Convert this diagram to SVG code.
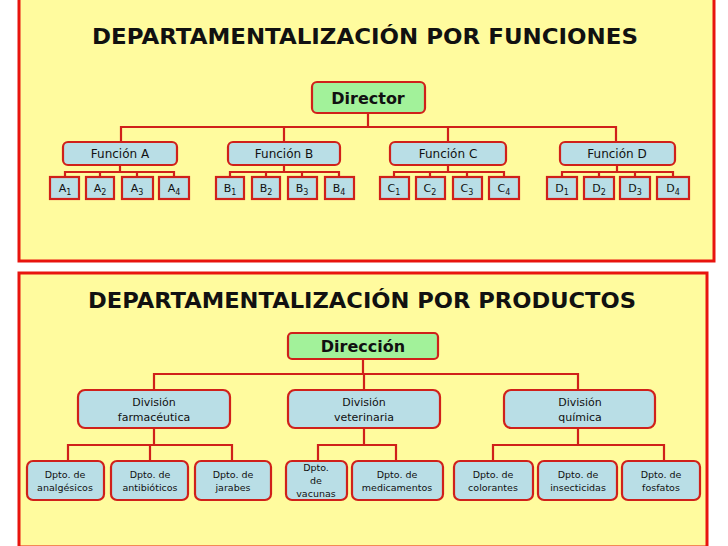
<svg xmlns="http://www.w3.org/2000/svg" width="728" height="546" viewBox="0 0 728 546">
<style>
.panel{fill:#FFFB9E;stroke:#E8140E;stroke-width:3}
.b{fill:#B9DEE6;stroke:#D0201A;stroke-width:2.2}
.g{fill:#A2F29A;stroke:#D0201A;stroke-width:2.2}
.c{fill:none;stroke:#D0201A;stroke-width:2.2}
text{font-family:"DejaVu Sans",sans-serif;fill:#111;text-anchor:middle}
.t{font-size:21px;font-weight:bold}
.h{font-size:16px;font-weight:bold}
.f{font-size:12px}
.s{font-size:11px}
.d{font-size:9.5px}
.u{font-size:8px;baseline-shift:-3px}
</style>
<rect width="728" height="546" fill="#fff"/>
<rect class="panel" x="19" y="-2" width="695" height="263"/>
<rect class="panel" x="19" y="273" width="688" height="274"/>
<text class="t" x="365" y="44" textLength="546" lengthAdjust="spacingAndGlyphs">DEPARTAMENTALIZACIÓN POR FUNCIONES</text>
<text class="t" x="362" y="308" textLength="548" lengthAdjust="spacingAndGlyphs">DEPARTAMENTALIZACIÓN POR PRODUCTOS</text>
<g id="connectors">
<path class="c" d="M368 113V127M121 142V127H616V142M284 127V142M448 127V142"/>
<path class="c" d="M120 165V172M65 177V172H174V177M100 172V177M137 172V177"/>
<path class="c" d="M284 165V172M230 177V172H339V177M266 172V177M302 172V177"/>
<path class="c" d="M448 165V172M394 177V172H504V177M430 172V177M467 172V177"/>
<path class="c" d="M617 165V172M562 177V172H673V177M599 172V177M635 172V177"/>
<path class="c" d="M363 359V374M154 390V374H578V390M364 374V390"/>
<path class="c" d="M154 428V445M68 461V445H232V461M150 445V461"/>
<path class="c" d="M364 428V445M318 461V445H396V461"/>
<path class="c" d="M578 428V445M493 461V445H664V461"/>
</g>
<g id="director"><rect class="g" x="312" y="82" width="113" height="31" rx="5"/><text class="h" x="368" y="104">Director</text></g>
<g id="fA"><rect class="b" x="63" y="142" width="114" height="23" rx="5"/><text class="f" x="120" y="158">Función A</text></g>
<g id="fB"><rect class="b" x="228" y="142" width="112" height="23" rx="5"/><text class="f" x="284" y="158">Función B</text></g>
<g id="fC"><rect class="b" x="390" y="142" width="116" height="23" rx="5"/><text class="f" x="448" y="158">Función C</text></g>
<g id="fD"><rect class="b" x="560" y="142" width="115" height="23" rx="5"/><text class="f" x="617" y="158">Función D</text></g>
<g id="A1"><rect class="b" x="50" y="177" width="29" height="22"/><text class="s" x="65" y="192">A<tspan class="u">1</tspan></text></g>
<g id="A2"><rect class="b" x="86" y="177" width="28" height="22"/><text class="s" x="100" y="192">A<tspan class="u">2</tspan></text></g>
<g id="A3"><rect class="b" x="122" y="177" width="31" height="22"/><text class="s" x="137" y="192">A<tspan class="u">3</tspan></text></g>
<g id="A4"><rect class="b" x="159" y="177" width="30" height="22"/><text class="s" x="174" y="192">A<tspan class="u">4</tspan></text></g>
<g id="B1"><rect class="b" x="216" y="177" width="28" height="22"/><text class="s" x="230" y="192">B<tspan class="u">1</tspan></text></g>
<g id="B2"><rect class="b" x="252" y="177" width="28" height="22"/><text class="s" x="266" y="192">B<tspan class="u">2</tspan></text></g>
<g id="B3"><rect class="b" x="288" y="177" width="29" height="22"/><text class="s" x="302" y="192">B<tspan class="u">3</tspan></text></g>
<g id="B4"><rect class="b" x="325" y="177" width="29" height="22"/><text class="s" x="339" y="192">B<tspan class="u">4</tspan></text></g>
<g id="C1"><rect class="b" x="380" y="177" width="29" height="22"/><text class="s" x="394" y="192">C<tspan class="u">1</tspan></text></g>
<g id="C2"><rect class="b" x="416" y="177" width="29" height="22"/><text class="s" x="430" y="192">C<tspan class="u">2</tspan></text></g>
<g id="C3"><rect class="b" x="453" y="177" width="29" height="22"/><text class="s" x="467" y="192">C<tspan class="u">3</tspan></text></g>
<g id="C4"><rect class="b" x="489" y="177" width="30" height="22"/><text class="s" x="504" y="192">C<tspan class="u">4</tspan></text></g>
<g id="D1"><rect class="b" x="547" y="177" width="30" height="22"/><text class="s" x="562" y="192">D<tspan class="u">1</tspan></text></g>
<g id="D2"><rect class="b" x="584" y="177" width="30" height="22"/><text class="s" x="599" y="192">D<tspan class="u">2</tspan></text></g>
<g id="D3"><rect class="b" x="620" y="177" width="30" height="22"/><text class="s" x="635" y="192">D<tspan class="u">3</tspan></text></g>
<g id="D4"><rect class="b" x="657" y="177" width="32" height="22"/><text class="s" x="673" y="192">D<tspan class="u">4</tspan></text></g>
<g id="direccion"><rect class="g" x="288" y="333" width="150" height="26" rx="4"/><text class="h" x="363" y="352">Dirección</text></g>
<g id="dfarm"><rect class="b" x="78" y="390" width="152" height="38" rx="7"/><text class="s" x="154" y="406">División</text><text class="s" x="154" y="421">farmacéutica</text></g>
<g id="dvet"><rect class="b" x="288" y="390" width="152" height="38" rx="7"/><text class="s" x="364" y="406">División</text><text class="s" x="364" y="421">veterinaria</text></g>
<g id="dqui"><rect class="b" x="504" y="390" width="151" height="38" rx="7"/><text class="s" x="580" y="406">División</text><text class="s" x="580" y="421">química</text></g>
<g id="analg"><rect class="b" x="27" y="461" width="77" height="39" rx="6"/><text class="d" x="65" y="478">Dpto. de</text><text class="d" x="65" y="491">analgésicos</text></g>
<g id="antib"><rect class="b" x="111" y="461" width="77" height="39" rx="6"/><text class="d" x="150" y="478">Dpto. de</text><text class="d" x="150" y="491">antibióticos</text></g>
<g id="jarab"><rect class="b" x="195" y="461" width="76" height="39" rx="6"/><text class="d" x="233" y="478">Dpto. de</text><text class="d" x="233" y="491">jarabes</text></g>
<g id="vacun"><rect class="b" x="286" y="461" width="61" height="39" rx="6"/><text class="d" x="316" y="471">Dpto.</text><text class="d" x="316" y="484">de</text><text class="d" x="316" y="497">vacunas</text></g>
<g id="medic"><rect class="b" x="352" y="461" width="91" height="39" rx="6"/><text class="d" x="397" y="478">Dpto. de</text><text class="d" x="397" y="491">medicamentos</text></g>
<g id="color"><rect class="b" x="454" y="461" width="79" height="39" rx="6"/><text class="d" x="493" y="478">Dpto. de</text><text class="d" x="493" y="491">colorantes</text></g>
<g id="insect"><rect class="b" x="538" y="461" width="79" height="39" rx="6"/><text class="d" x="578" y="478">Dpto. de</text><text class="d" x="578" y="491">insecticidas</text></g>
<g id="fosf"><rect class="b" x="622" y="461" width="78" height="39" rx="6"/><text class="d" x="661" y="478">Dpto. de</text><text class="d" x="661" y="491">fosfatos</text></g>
</svg>
